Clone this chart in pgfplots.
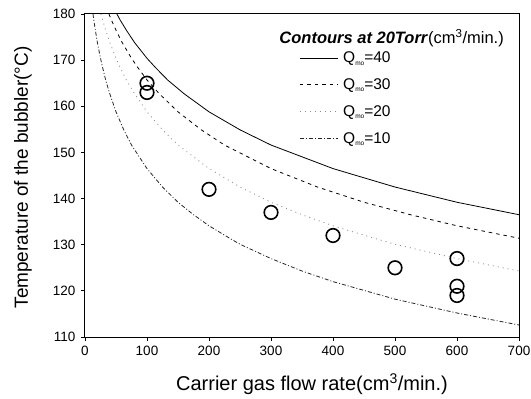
\documentclass[border=0pt]{standalone}
\usepackage{pgfplots}
\pgfplotsset{compat=1.18}
\usepackage{fontspec}
\setmainfont{Liberation Sans}
\usetikzlibrary{calc}
\newcommand{\Qmo}[1]{\hspace{3pt}Q\raisebox{-0.3ex}{\fontsize{6.5}{7}\selectfont mo}=#1}
\begin{document}
\begin{tikzpicture}
\begin{axis}[
  scale only axis, width=434pt, height=323pt,
  xmin=0, xmax=700, ymin=110, ymax=180,
  xtick={0,100,...,700}, ytick={110,120,...,180},
  tick align=outside, xtick pos=left, ytick pos=left,
  major tick length=4pt,
  axis line style={line width=1pt}, tick style={line width=0.8pt, black},
  /pgf/number format/assume math mode=true,
  ticklabel style={font=\fontsize{13.5}{15}\selectfont},
  yticklabel style={xshift=-2pt},
  xticklabel style={yshift=-2pt},
  xlabel={Carrier gas flow rate(cm\textsuperscript{3}/min.)},
  ylabel={Temperature of the bubbler(°C)},
  xlabel style={font=\fontsize{20}{23}\selectfont, at={(axis description cs:0.523,-0.146)}, anchor=center},
  ylabel style={font=\fontsize{19}{22}\selectfont, at={(axis description cs:-0.143,0.494)}, anchor=center},
  legend cell align=left,
  legend style={draw=none, fill=none, at={(axis description cs:0.489,0.896)}, anchor=north west,
    font=\fontsize{15.5}{17}\selectfont, inner sep=2pt, row sep=10.5pt},
  legend image code/.code={\draw[#1] (0pt,0pt) -- (38pt,0pt);},
]
\addplot[black, line width=0.8pt] coordinates {
(51.4,180.0)(57.1,178.6)(66.7,176.5)(80,173.8)(100,170.4)(114.3,168.3)(133.3,165.7)(160,162.7)(200,158.8)(250,154.9)(300,151.6)(400,146.5)(500,142.5)(600,139.2)(700,136.5)};
\addlegendentry{\Qmo{40}}
\addplot[black, line width=0.8pt, dash pattern=on 3.5pt off 4pt] coordinates {
(38.6,180.0)(42.9,178.6)(50,176.5)(60,173.8)(75,170.4)(85.7,168.3)(100,165.7)(120,162.7)(150,158.8)(187.5,154.9)(225,151.6)(300,146.5)(375,142.5)(450,139.2)(525,136.5)(600,134.1)(700,131.4)};
\addlegendentry{\Qmo{30}}
\addplot[black!45, line width=0.8pt, dash pattern=on 1pt off 4pt] coordinates {
(25.7,180.0)(28.6,178.6)(33.3,176.5)(40,173.8)(50,170.4)(57.1,168.3)(66.7,165.7)(80,162.7)(100,158.8)(125,154.9)(150,151.6)(200,146.5)(250,142.5)(300,139.2)(350,136.5)(400,134.1)(466.7,131.4)(500,130.1)(600,127.0)(700,124.3)};
\addlegendentry{\Qmo{20}}
\addplot[black!85, line width=0.8pt, dash pattern=on 4pt off 2pt on 1pt off 2pt] coordinates {
(12.9,180.0)(14.3,178.6)(16.7,176.5)(20,173.8)(25,170.4)(28.6,168.3)(33.3,165.7)(40,162.7)(50,158.8)(62.5,154.9)(75,151.6)(100,146.5)(125,142.5)(150,139.2)(175,136.5)(200,134.1)(233.3,131.4)(250,130.1)(300,127.0)(350,124.3)(400,122.0)(500,118.2)(600,115.2)(700,112.6)};
\addlegendentry{\Qmo{10}}
\addplot[only marks, mark=o, mark size=6.8pt, line width=1.6pt, black, forget plot] coordinates {
(100,165)(100,163)(200,142)(300,137)(400,132)(500,125)(600,127)(600,121)(600,119)};
\node[anchor=west, font=\fontsize{16.5}{18}\selectfont] at (axis description cs:0.440,0.925)
  {\textbf{\textit{Contours at 20Torr}}(cm\textsuperscript{3}/min.)};
\end{axis}
\pgfresetboundingbox
\path[use as bounding box] ($(current axis.south west)+(-85pt,-61pt)$) rectangle ($(current axis.north east)+(12pt,14pt)$);
\end{tikzpicture}
\end{document}
